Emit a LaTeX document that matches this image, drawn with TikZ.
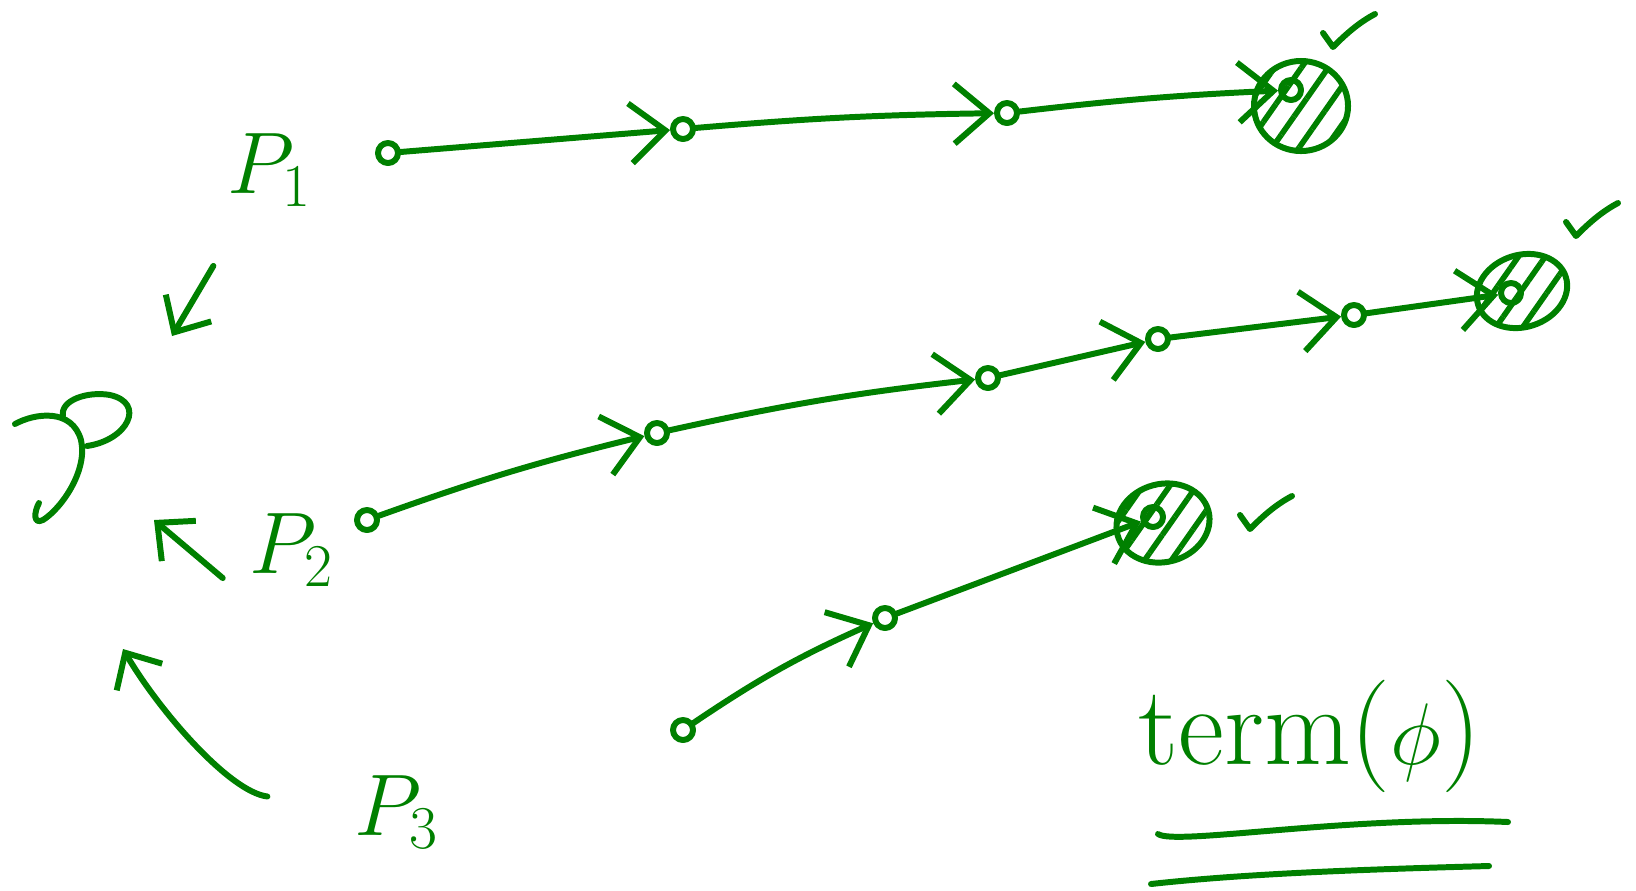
\documentclass[tikz,border=0pt]{standalone}
\usetikzlibrary{arrows.meta, shapes.geometric, patterns.meta}
\definecolor{ink}{RGB}{0,128,0}

\begin{document}
\begin{tikzpicture}[x=0.01cm, y=-0.01cm,
      pen/.style={draw=ink, line width=1.7pt, line cap=round, line join=round},
      lbl/.style={text=ink, font=\fontsize{26}{28}\selectfont, inner sep=2pt},
      state/.style={pen, circle, minimum size=0.2cm, inner sep=0pt},
      done/.style={pen, ellipse, inner sep=0pt, pattern={Lines[angle=55, distance=0.22cm, line width=1.6pt]}, pattern color=ink},
      arr/.style={pen, -{Straight Barb[length=8pt, width=15pt]}},
      edge/.style={pen, -{Straight Barb[length=10pt, width=17pt]}},
      chk/.pic={\draw[pen] (0,0) -- (10,14) .. controls (22,2) and (35,-10) .. (52,-19);}
    ]
      \useasboundingbox (0,0) rectangle (1636,890);

      \node[lbl] (P1) at (270,170) {$P_1$};
      \node[lbl] (P2) at (292,550) {$P_2$};
      \node[lbl] (P3) at (397,812) {$P_3$};

      \draw[pen] (15,424) .. controls (35,413) and (72,408) .. (81,440) .. controls (88,470) and (62,508) .. (43,520) .. controls (33,525) and (34,512) .. (39,503);
      \draw[pen] (63,416) .. controls (60,400) and (88,391) .. (110,395) .. controls (146,403) and (128,440) .. (87,446);

      \coordinate (q1) at (172,336);
      \coordinate (q2) at (154,520);
      \coordinate (q3) at (123,649);
      \draw[arr, shorten <=0.6cm] (P1) -- (q1);
      \draw[arr, shorten <=0.25cm] (P2.south west) -- (q2);
      \draw[arr, shorten <=0.8cm] (P3) .. controls (230,792) and (160,712) .. (q3);

      \node[done, minimum width=0.94cm, minimum height=0.9cm] (h1) at (1301,106) {};
      \node[done, minimum width=0.92cm, minimum height=0.72cm, rotate=18] (h2) at (1522,291) {};
      \node[done, minimum width=0.94cm, minimum height=0.78cm, rotate=15] (h3) at (1163,523) {};

      \node[state] (a0) at (388,153) {};
      \node[state] (a1) at (683,129) {};
      \node[state] (a2) at (1007,113) {};
      \node[state] (a3) at (1291,90) {};
      \draw[edge] (a0) -- (a1);
      \draw[edge] (a1) to[bend left=2] (a2);
      \draw[edge] (a2) to[bend left=2] (a3);

      \node[state] (b0) at (367,520) {};
      \node[state] (b1) at (657,433) {};
      \node[state] (b2) at (988,378) {};
      \node[state] (b3) at (1158,339) {};
      \node[state] (b4) at (1354,315) {};
      \node[state] (b5) at (1511,293) {};
      \draw[edge] (b0) to[bend left=3] (b1);
      \draw[edge] (b1) to[bend left=3] (b2);
      \draw[edge] (b2) -- (b3);
      \draw[edge] (b3) -- (b4);
      \draw[edge] (b4) -- (b5);

      \node[state] (c0) at (683,730) {};
      \node[state] (c1) at (885,618) {};
      \node[state] (c2) at (1153,517) {};
      \draw[edge] (c0) to[bend left=5] (c1);
      \draw[edge] (c1) -- (c2);

      \pic at (1323,33) {chk};
      \pic at (1566,222) {chk};
      \pic at (1240,515) {chk};

      \node[lbl, font=\fontsize{32}{34}\selectfont] (term) at (1310,736) {term($\phi$)};
      \draw[pen] (1158,834) .. controls (1175,846) and (1350,815) .. (1508,822);
      \draw[pen] (1151,884) .. controls (1250,873) and (1380,869) .. (1489,866);
    \end{tikzpicture}
\end{document}
